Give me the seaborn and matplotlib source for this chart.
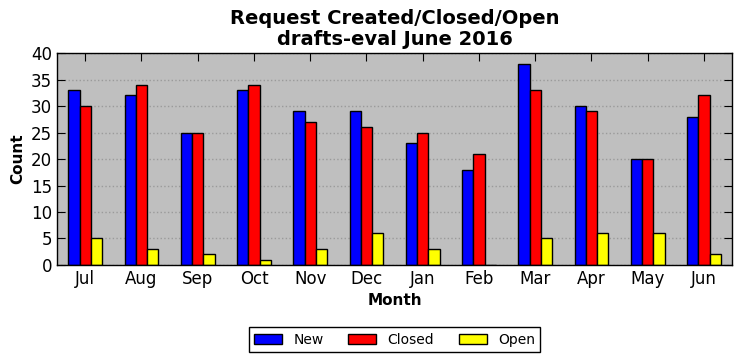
import pandas as pd
import matplotlib.pyplot as plt
import seaborn as sns

months = ['Jul', 'Aug', 'Sep', 'Oct', 'Nov', 'Dec', 'Jan', 'Feb', 'Mar', 'Apr', 'May', 'Jun']
new = [33, 32, 25, 33, 29, 29, 23, 18, 38, 30, 20, 28]
closed = [30, 34, 25, 34, 27, 26, 25, 21, 33, 29, 20, 32]
open_ = [5, 3, 2, 1, 3, 6, 3, 0, 5, 6, 6, 2]

df = pd.DataFrame({'Month': months, 'New': new, 'Closed': closed, 'Open': open_})
long_df = df.melt(id_vars='Month', var_name='Status', value_name='Count')

sns.set_style('ticks', {'axes.facecolor': '#bfbfbf', 'axes.edgecolor': 'black',
                        'xtick.direction': 'in', 'ytick.direction': 'in',
                        'text.color': 'black', 'axes.labelcolor': 'black',
                        'xtick.color': 'black', 'ytick.color': 'black'})
plt.rcParams['font.family'] = ['DejaVu Sans']

fig, ax = plt.subplots(figsize=(7.41, 3.61), dpi=100)
sns.barplot(data=long_df, x='Month', y='Count', hue='Status',
            palette=['blue', 'red', 'yellow'], width=0.6,
            edgecolor='black', linewidth=1, saturation=1, ax=ax)

ax.set_xlim(-0.5, 11.5)
ax.set_ylim(0, 40)
ax.set_yticks(range(0, 41, 5))
ax.yaxis.grid(True, linestyle=':', color='#9a9a9a', linewidth=1)
ax.set_axisbelow(True)
ax.tick_params(top=True, right=True, direction='in', length=6, labelsize=12, colors='black')
for s in ax.spines.values():
    s.set_visible(True)
    s.set_linewidth(1)

ax.set_title('Request Created/Closed/Open\ndrafts-eval June 2016', fontsize=14,
             fontweight='bold', linespacing=1.1, color='black')
ax.set_xlabel('Month', fontsize=11, fontweight='bold', color='black')
ax.set_ylabel('Count', fontsize=11, fontweight='bold', color='black')

leg = ax.legend(loc='upper center', bbox_to_anchor=(0.5, -0.26), ncol=3, frameon=True,
                fancybox=False, edgecolor='black', facecolor='white', framealpha=1,
                fontsize=10, handlelength=2.0, columnspacing=1.8, title=None)
for t in leg.get_texts():
    t.set_color('black')

fig.subplots_adjust(left=0.077, right=0.988, top=0.853, bottom=0.266)
plt.savefig('out.png', dpi=100)
plt.close()
